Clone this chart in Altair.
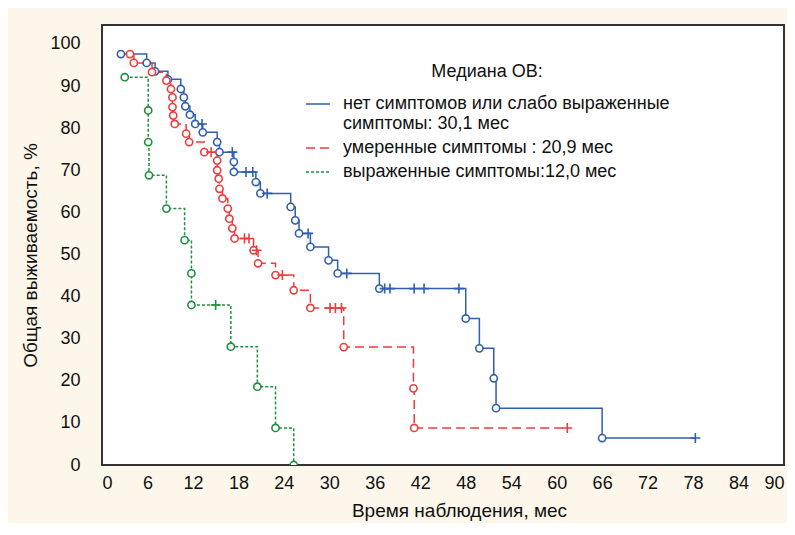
import altair as alt
import pandas as pd

# ---------------- data ----------------
GROUPS = [
    "нет симптомов или слабо выраженные\nсимптомы: 30,1 мес",
    "умеренные симптомы : 20,9 мес",
    "выраженные симптомы:12,0 мес",
]
COLORS = ["#2f5fae", "#ef3b3b", "#1f8f3f"]
DASHES = [[1, 0], [9, 5], [3, 2]]

# group 1: no / mild symptoms
G1_EVENT_T = [2.5, 5.9, 7.0, 8.7, 10.4, 10.8, 11.0, 11.6, 12.3, 13.3, 15.2, 15.5,
              17.4, 17.4, 20.3, 20.9, 24.9, 25.5, 26.0, 27.5, 29.9, 31.1, 36.6,
              48.0, 49.8, 51.7, 52.0, 66.0]
G1_EVENT_S = [97.6, 95.5, 93.5, 91.6, 89.3, 87.3, 85.2, 83.2, 81.0, 79.0, 76.7, 74.3,
              72.0, 69.6, 67.2, 64.5, 61.3, 58.1, 55.0, 51.8, 48.6, 45.5, 41.9,
              34.8, 27.7, 20.6, 13.5, 6.4]
G1_CENS_T = [13.2, 17.2, 19.0, 19.9, 21.8, 27.2, 32.3, 37.3, 38.0, 41.2, 42.5, 47.1, 78.3]
G1_CENS_S = [81.0, 74.3, 69.6, 69.6, 64.5, 55.0, 45.5, 41.9, 41.9, 41.9, 41.9, 41.9, 6.4]

# group 2: moderate symptoms
G2_EVENT_T = [3.7, 4.2, 6.6, 8.5, 9.1, 9.3, 9.3, 9.4, 9.6, 11.1, 11.5, 13.5, 15.2,
              15.2, 15.4, 15.5, 15.9, 16.6, 16.8, 17.2, 17.5, 20.0, 20.6, 22.9,
              25.3, 27.5, 31.9, 41.1, 41.2]
G2_EVENT_S = [97.6, 95.5, 93.3, 91.3, 89.3, 87.3, 85.0, 83.0, 81.0, 78.7, 76.7, 74.3,
              72.3, 70.0, 68.0, 65.6, 63.3, 60.9, 58.5, 56.2, 53.8, 51.0, 47.9, 45.1,
              41.5, 37.3, 28.0, 18.2, 8.8]
G2_CENS_T = [14.4, 18.8, 19.4, 20.4, 23.8, 30.1, 30.8, 31.6, 61.4]
G2_CENS_S = [74.3, 53.8, 53.8, 51.0, 45.1, 37.3, 37.3, 37.3, 8.8]

# group 3: severe symptoms
G3_EVENT_T = [3.0, 6.1, 6.1, 6.2, 8.5, 10.9, 11.8, 11.8, 17.0, 20.5, 22.9, 25.3]
G3_EVENT_S = [92.1, 84.2, 76.7, 68.8, 60.9, 53.4, 45.5, 38.0, 28.1, 18.6, 8.8, 0.0]
G3_CENS_T = [15.0]
G3_CENS_S = [38.0]

X_TICKS = list(range(0, 91, 6))
Y_TICKS = list(range(0, 101, 10))

# ---------------- build table ----------------
series = [
    (G1_EVENT_T, G1_EVENT_S, G1_CENS_T, G1_CENS_S),
    (G2_EVENT_T, G2_EVENT_S, G2_CENS_T, G2_CENS_S),
    (G3_EVENT_T, G3_EVENT_S, G3_CENS_T, G3_CENS_S),
]
rows = []
for gi, (et, es, ct, cs) in enumerate(series):
    pts = [(t, s, "event") for t, s in zip(et, es)] + [(t, s, "censor") for t, s in zip(ct, cs)]
    pts.sort(key=lambda p: (p[0], -p[1]))
    for k, (t, s, kind) in enumerate(pts):
        rows.append(dict(group=GROUPS[gi], gi=gi, t=t, s=s, kind=kind, seq=k))
df = pd.DataFrame(rows)

FONT = "Liberation Sans"
color_scale = alt.Scale(domain=GROUPS, range=COLORS)
dash_scale = alt.Scale(domain=GROUPS, range=DASHES)

legend = alt.Legend(
    title="Медиана ОВ:", orient="none", legendX=203, legendY=38,
    symbolType="stroke", symbolSize=576, symbolStrokeWidth=1.5,
    labelFont=FONT, labelFontSize=18, labelColor="#111", labelLimit=600,
    labelOffset=12, labelExpr="split(datum.label, '\\n')",
    titleFont=FONT, titleFontSize=18, titleFontWeight="normal", titleColor="#111",
    titleAnchor="middle", titlePadding=10, rowPadding=2, padding=0,
)

x_enc = alt.X("t:Q", scale=alt.Scale(domain=[0, 90], nice=False),
              axis=alt.Axis(values=X_TICKS, title="Время наблюдения, мес",
                            titleX=357, titleY=45, titleBaseline="middle"))
y_enc = alt.Y("s:Q", scale=alt.Scale(domain=[0, 104.5], nice=False),
              axis=alt.Axis(values=Y_TICKS, title="Общая выживаемость, %",
                            titleX=-72, titleY=230, titleBaseline="middle"))

base = alt.Chart(df)

lines = base.mark_line(interpolate="step-after", strokeWidth=1.5).encode(
    x=x_enc, y=y_enc,
    color=alt.Color("group:N", scale=color_scale, legend=legend, sort=GROUPS),
    strokeDash=alt.StrokeDash("group:N", scale=dash_scale, legend=legend, sort=GROUPS),
    order="seq:Q",
)

circles = base.transform_filter("datum.kind == 'event'").mark_point(
    shape="circle", filled=True, fill="white", size=52, strokeWidth=1.6, opacity=1, clip=True
).encode(
    x="t:Q", y="s:Q",
    stroke=alt.Stroke("group:N", scale=color_scale, legend=None),
    order="gi:Q",
)

crosses = base.transform_filter("datum.kind == 'censor'").mark_point(
    shape="M-1,0L1,0M0,-1L0,1", size=100, strokeWidth=1.6, filled=False, opacity=1
).encode(
    x="t:Q", y="s:Q",
    stroke=alt.Stroke("group:N", scale=color_scale, legend=None),
)

chart = alt.layer(lines, circles, crosses).properties(
    width=682, height=440,
    autosize=alt.AutoSizeParams(type="none"),
    padding={"left": 94, "top": 17, "right": 3, "bottom": 58},
    background="#fdf6ea",
).configure_view(
    fill="white", stroke="#333333", strokeWidth=2
).configure_axis(
    grid=False, ticks=False, domain=False,
    labelFont=FONT, labelFontSize=18, labelColor="#111",
    titleFont=FONT, titleFontSize=19, titleFontWeight="normal", titleColor="#111",
).configure_axisX(labelPadding=9).configure_axisY(labelPadding=22)

chart.save("out.html", embed_options={"renderer": "svg", "actions": False})
